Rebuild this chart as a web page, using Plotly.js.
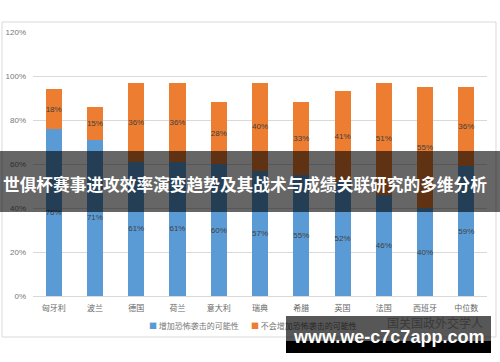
<!DOCTYPE html>
<html>
<head>
<meta charset="utf-8">
<script src="https://cdn.plot.ly/plotly-3.0.1.min.js"></script>
<style>
html,body{margin:0;padding:0;background:#fff;}
#chart{width:500px;height:362px;}
</style>
</head>
<body>
<div id="chart"></div>
<script>
var categories = ["匈牙利","波兰","德国","荷兰","意大利","瑞典","希腊","英国","法国","西班牙","中位数"];
var increaseLikely = [76,71,61,61,60,57,55,52,46,40,59];
var notIncrease = [18,15,36,36,28,40,33,41,51,55,36];
var seriesNames = ["增加恐怖袭击的可能性","不会增加恐怖袭击的可能性"];
var yTicks = [0,20,40,60,80,100,120];
var titleText = "世俱杯赛事进攻效率演变趋势及其战术与成绩关联研究的多维分析";
var watermarkText = "www.we-c7c7app.com";
var sourceText = "国关国政外交学人";

var colors = ["#5B9BD5","#ED7D31"];

// plot area geometry (pixels)
var L = 33, T = 32, W = 454, H = 264;
function xp(px){ return (px - L) / W; }
function yp(py){ return (T + H - py) / H; }

var lblFont = {family:"Liberation Sans, sans-serif", size:8, color:"#404040"};

var traces = [
  {type:"bar", name:seriesNames[0], x:categories, y:increaseLikely,
   marker:{color:colors[0]},
   text:increaseLikely.map(function(v){return v+"%";}), textposition:"inside", textangle:0,
   insidetextanchor:"middle", constraintext:"none", textfont:lblFont, hoverinfo:"skip"},
  {type:"bar", name:seriesNames[1], x:categories, y:notIncrease,
   marker:{color:colors[1]},
   text:notIncrease.map(function(v){return v+"%";}), textposition:"inside", textangle:0,
   insidetextanchor:"middle", constraintext:"none", textfont:lblFont, hoverinfo:"skip"}
];

var layout = {
  width:500, height:362,
  margin:{l:L, r:500-L-W, t:T, b:362-T-H, pad:0},
  paper_bgcolor:"#ffffff", plot_bgcolor:"#ffffff",
  barmode:"stack", bargap:0.61,
  showlegend:false,
  font:{family:"Noto Sans CJK SC, Liberation Sans, sans-serif", color:"#666"},
  xaxis:{type:"category", showgrid:false, showline:true, linecolor:"#d9d9d9", linewidth:1,
    ticks:"", tickfont:{size:8, color:"#666"}, ticklabelstandoff:4, fixedrange:true, zeroline:false},
  yaxis:{range:[0,120], tickvals:yTicks, ticktext:yTicks.map(function(v){return v+"%";}),
    showgrid:true, gridcolor:"#d9d9d9", gridwidth:1, zeroline:false, showline:false,
    ticks:"", tickfont:{family:"Liberation Sans, sans-serif", size:8, color:"#777"},
    ticklabelstandoff:6, fixedrange:true},
  shapes:[
    {type:"rect", xref:"paper", yref:"paper", x0:xp(2), x1:xp(496), y0:yp(337), y1:yp(22),
     line:{color:"#d9d9d9", width:1}, fillcolor:"rgba(0,0,0,0)", layer:"below"},
    {type:"rect", xref:"paper", yref:"paper", x0:xp(0), x1:xp(500), y0:yp(212), y1:yp(151),
     line:{width:0}, fillcolor:"rgba(0,0,0,0.6)", layer:"above"}
  ],
  annotations:[
    {xref:"paper", yref:"paper", x:xp(244.5), y:yp(184), xanchor:"center", yanchor:"middle",
     text:"<b>"+titleText+"</b>", showarrow:false,
     font:{family:"Noto Sans CJK SC, sans-serif", size:16.7, color:"#ffffff"}},
    {xref:"paper", yref:"paper", x:xp(147), y:yp(325), xanchor:"left", yanchor:"middle",
     text:"<span style='color:"+colors[0]+"'>■</span> "+seriesNames[0], showarrow:false,
     font:{family:"Noto Sans CJK SC, sans-serif", size:8, color:"#777"}},
    {xref:"paper", yref:"paper", x:xp(249), y:yp(325), xanchor:"left", yanchor:"middle",
     text:"<span style='color:"+colors[1]+"'>■</span> "+seriesNames[1], showarrow:false,
     font:{family:"Noto Sans CJK SC, sans-serif", size:8, color:"#777"}},
    {xref:"paper", yref:"paper", x:xp(435), y:yp(322), xanchor:"center", yanchor:"middle",
     text:sourceText, showarrow:false,
     font:{family:"Noto Sans CJK SC, sans-serif", size:12, color:"#aaa"}},
    {xref:"paper", yref:"paper", x:xp(286), y:yp(316), xanchor:"left", yanchor:"top",
     text:" ", showarrow:false, width:205, height:25, bgcolor:"rgba(0,0,0,0.66)", borderpad:0, borderwidth:0},
    {xref:"paper", yref:"paper", x:xp(286), y:yp(341), xanchor:"left", yanchor:"top",
     text:" ", showarrow:false, width:205, height:12, bgcolor:"#000000", borderpad:0, borderwidth:0},
    {xref:"paper", yref:"paper", x:xp(388), y:yp(337), xanchor:"center", yanchor:"middle",
     text:"<b>"+watermarkText+"</b>", showarrow:false,
     font:{family:"Liberation Sans, Arial, sans-serif", size:18, color:"#ffffff"}}
  ]
};

Plotly.newPlot("chart", traces, layout, {displayModeBar:false, staticPlot:true});
</script>
</body>
</html>
